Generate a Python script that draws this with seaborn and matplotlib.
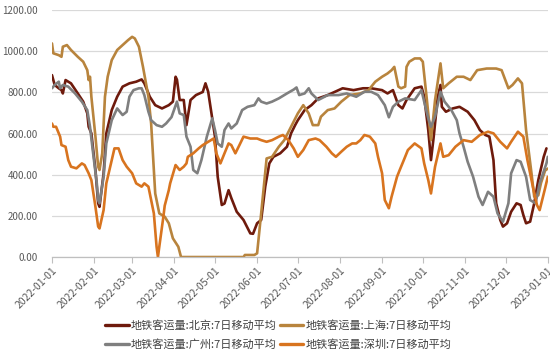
import numpy as np
import pandas as pd
import matplotlib
matplotlib.use("Agg")
import matplotlib.pyplot as plt
import matplotlib.dates as mdates
from matplotlib.lines import Line2D
import seaborn as sns

# ---- data (day offset from 2022-01-01, value) ----
bj_day = [0, 2, 5, 7, 8, 10, 14, 19, 23, 26, 27, 29, 32, 34, 35, 38, 40, 44, 48, 52, 57, 62, 66, 68,
          72, 76, 81, 86, 89, 91, 92, 94, 97, 99, 102, 106, 111, 113, 115, 120, 122, 125, 127, 130,
          132, 136, 141, 146, 148, 151, 154, 157, 160, 163, 168, 173, 176, 179, 181, 186, 191, 196,
          203, 214, 222, 229, 235, 243, 247, 251, 255, 258, 261, 267, 272, 274, 277, 279, 281, 284,
          286, 287, 290, 295, 300, 306, 311, 315, 319, 322, 325, 327, 330, 332, 335, 338, 342, 345,
          347, 349, 352, 355, 358, 362, 364]
bj_val = [884, 836, 820, 811, 795, 860, 844, 795, 755, 698, 633, 601, 423, 261, 244, 407, 601, 714,
          779, 828, 844, 852, 863, 844, 779, 738, 722, 738, 755, 876, 862, 763, 763, 641, 763, 787,
          802, 844, 803, 585, 390, 253, 260, 325, 287, 220, 180, 115, 113, 164, 180, 342, 455, 487,
          504, 536, 601, 641, 665, 714, 738, 771, 787, 820, 811, 820, 820, 811, 795, 811, 738, 722,
          763, 820, 828, 779, 617, 471, 584, 779, 836, 730, 706, 722, 730, 706, 665, 617, 593, 585,
          471, 261, 180, 148, 164, 220, 261, 253, 204, 164, 172, 261, 374, 487, 528]

sh_day = [0, 1, 5, 7, 8, 11, 14, 19, 23, 26, 27, 28, 29, 32, 34, 35, 37, 39, 41, 44, 48, 52, 56, 59,
          61, 64, 67, 71, 73, 76, 79, 83, 86, 89, 93, 95, 141, 142, 149, 151, 154, 158, 162, 167, 171,
          176, 181, 185, 189, 192, 196, 198, 203, 208, 213, 219, 227, 233, 238, 243, 247, 250, 252,
          255, 257, 260, 261, 263, 267, 271, 273, 276, 279, 282, 286, 288, 292, 298, 303, 308, 313,
          320, 327, 331, 336, 339, 343, 346, 349, 353, 355, 358, 360, 363, 365]
sh_val = [1038, 990, 981, 973, 1022, 1030, 1006, 973, 949, 908, 860, 876, 779, 585, 439, 423, 504,
          779, 876, 957, 1006, 1030, 1054, 1070, 1062, 1022, 924, 779, 649, 309, 212, 196, 164, 91,
          50, 0, 0, 10, 10, 18, 212, 479, 487, 536, 568, 633, 698, 738, 698, 641, 641, 682, 714, 722,
          755, 787, 795, 811, 852, 876, 892, 908, 924, 828, 820, 828, 924, 949, 965, 965, 949, 763,
          568, 763, 941, 820, 844, 876, 876, 860, 908, 916, 916, 908, 820, 836, 868, 844, 617, 407,
          293, 300, 360, 420, 430]

gz_day = [0, 2, 5, 6, 8, 12, 17, 22, 26, 28, 30, 33, 34, 35, 38, 40, 44, 48, 50, 52, 55, 57, 60, 64,
          66, 68, 71, 73, 77, 81, 84, 88, 92, 94, 97, 99, 102, 104, 107, 110, 114, 118, 120, 122,
          125, 127, 130, 132, 136, 140, 144, 149, 152, 154, 158, 162, 167, 173, 178, 180, 182, 186,
          189, 191, 196, 203, 211, 217, 224, 230, 235, 240, 245, 248, 251, 255, 260, 267, 272, 274,
          277, 279, 282, 286, 289, 294, 298, 300, 303, 306, 310, 314, 317, 321, 325, 328, 332, 336,
          338, 342, 345, 349, 352, 356, 359, 364, 365]
gz_val = [820, 836, 852, 820, 836, 828, 795, 755, 714, 633, 520, 358, 277, 261, 390, 552, 665, 722,
          706, 690, 706, 779, 811, 820, 820, 787, 706, 665, 641, 633, 649, 680, 755, 698, 690, 585,
          536, 423, 407, 471, 585, 674, 617, 552, 536, 617, 649, 625, 649, 714, 730, 738, 771, 755,
          746, 755, 771, 795, 814, 824, 787, 795, 820, 795, 763, 787, 787, 795, 779, 803, 803, 787,
          738, 679, 730, 755, 771, 763, 811, 755, 674, 633, 682, 803, 755, 714, 665, 601, 536, 463,
          390, 293, 253, 317, 293, 212, 172, 261, 407, 471, 463, 390, 277, 261, 358, 455, 487]

sz_day = [0, 1, 3, 6, 7, 10, 12, 14, 18, 22, 24, 27, 29, 32, 34, 35, 38, 40, 44, 46, 49, 52, 55, 59,
          62, 66, 68, 71, 75, 77, 78, 79, 82, 83, 86, 87, 91, 92, 94, 97, 99, 100, 104, 108, 111,
          115, 119, 121, 124, 127, 130, 132, 135, 138, 141, 146, 151, 154, 158, 162, 167, 170, 174,
          178, 181, 185, 189, 194, 197, 202, 206, 209, 213, 217, 221, 224, 227, 230, 234, 238, 240,
          243, 245, 248, 250, 254, 256, 259, 262, 267, 272, 274, 277, 279, 282, 286, 288, 292, 297,
          303, 309, 315, 321, 325, 330, 335, 338, 343, 347, 350, 354, 357, 359, 363, 365]
sz_val = [649, 633, 633, 585, 544, 536, 471, 439, 431, 455, 447, 407, 374, 244, 148, 139, 228, 358,
          471, 528, 528, 471, 439, 407, 358, 342, 358, 342, 212, 50, 0, 50, 196, 250, 325, 358, 447,
          439, 423, 439, 455, 487, 504, 528, 544, 560, 576, 504, 455, 504, 552, 544, 504, 544, 585,
          576, 576, 568, 560, 568, 585, 593, 568, 527, 487, 520, 568, 576, 568, 536, 504, 487, 512,
          536, 552, 552, 568, 593, 585, 552, 487, 407, 277, 237, 293, 390, 423, 471, 520, 552, 528,
          455, 374, 309, 439, 552, 487, 495, 536, 568, 560, 593, 609, 601, 560, 528, 560, 609, 585,
          471, 342, 253, 228, 334, 390]

names = ["地铁客运量:北京:7日移动平均", "地铁客运量:上海:7日移动平均",
         "地铁客运量:广州:7日移动平均", "地铁客运量:深圳:7日移动平均"]
colors = ["#6E1A0C", "#B8843D", "#7F7F7F", "#D8741F"]
yticks = [0, 200, 400, 600, 800, 1000, 1200]

start = pd.Timestamp("2022-01-01")
frames = []
for nm, d, v in zip(names, [bj_day, sh_day, gz_day, sz_day], [bj_val, sh_val, gz_val, sz_val]):
    frames.append(pd.DataFrame({"date": start + pd.to_timedelta(d, unit="D"),
                                "value": v, "series": nm}))
df = pd.concat(frames, ignore_index=True)

sns.set_theme(style="white")
plt.rcParams["font.family"] = ["Noto Sans CJK SC", "DejaVu Sans"]

fig = plt.figure(figsize=(5.5, 3.6), dpi=100)
ax = fig.add_axes([0.0945, 0.286, 0.9015, 0.686])

sns.lineplot(data=df, x="date", y="value", hue="series", hue_order=names,
             palette=dict(zip(names, colors)), estimator=None, sort=True,
             linewidth=1.9, ax=ax, legend=False)

ax.set_xlim(pd.Timestamp("2022-01-01"), pd.Timestamp("2023-01-01"))
ax.set_ylim(0, 1200)
ax.set_yticks(yticks)
ax.set_yticklabels([f"{t:.2f}" for t in yticks])
ax.xaxis.set_major_locator(mdates.MonthLocator())
ax.xaxis.set_major_formatter(mdates.DateFormatter("%Y-%m-%d"))
for lab in ax.get_xticklabels():
    lab.set_rotation(45)
    lab.set_ha("right")
    lab.set_rotation_mode("anchor")

ax.set_xlabel("")
ax.set_ylabel("")
ax.grid(axis="y", color="#D9D9D9", linewidth=0.9)
ax.grid(axis="x", visible=False)
ax.set_axisbelow(True)
for s in ["left", "right", "top"]:
    ax.spines[s].set_visible(False)
ax.spines["bottom"].set_color("#BFBFBF")
ax.spines["bottom"].set_linewidth(0.9)
ax.tick_params(axis="x", which="major", bottom=True, length=4, width=0.8, color="#BFBFBF",
               labelsize=7.5, labelcolor="#595959", pad=2)
ax.tick_params(axis="y", left=False, labelsize=7.0, labelcolor="#595959", pad=4)

handles = [Line2D([0], [0], color=c, lw=2.4) for c in colors]
order = [0, 2, 1, 3]
fig.legend([handles[i] for i in order], [names[i] for i in order],
           loc="upper center", bbox_to_anchor=(0.506, 0.112), ncol=2, frameon=False,
           fontsize=8.0, handlelength=2.1, handletextpad=0.2, columnspacing=0.3,
           labelspacing=0.75, labelcolor="#404040", borderaxespad=0, borderpad=0)

fig.savefig("out.png", dpi=100)
